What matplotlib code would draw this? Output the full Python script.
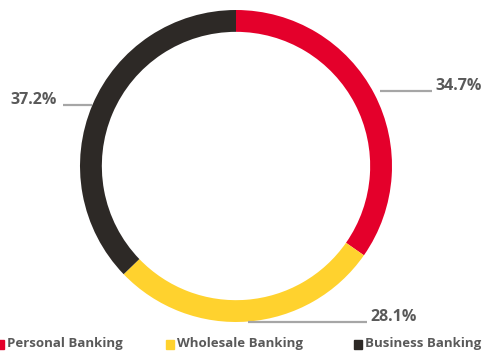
import matplotlib.pyplot as plt
import numpy as np

segments = ["Personal Banking", "Wholesale Banking", "Business Banking"]
shares = [34.7, 28.1, 37.2]
colors = ["#E4002B", "#FFD22E", "#2D2926"]
text_gray = "#595959"
line_gray = "#A6A6A6"

plt.rcParams["font.family"] = ["Open Sans", "DejaVu Sans"]

W, H = 483, 352
fig = plt.figure(figsize=(W / 100, H / 100), dpi=100)

# ring centre and outer radius in pixels
cx, cy, r = 236, 166, 156
ax = fig.add_axes([(cx - r) / W, (H - cy - r) / H, 2 * r / W, 2 * r / H])
wedges, _ = ax.pie(shares, colors=colors, startangle=90, counterclock=False,
                   radius=1, wedgeprops=dict(width=0.14, edgecolor="none"))
ax.set_xlim(-1, 1)
ax.set_ylim(-1, 1)
ax.axis("off")

# horizontal leader lines: start radius, end x in pixels, text side
leaders = [(1.04, 432, "left"), (1.0, 367, "left"), (1.0, 63, "right")]
for w, val, (rad, lx, ha) in zip(wedges, shares, leaders):
    ang = np.deg2rad((w.theta1 + w.theta2) / 2)
    sx, sy = rad * np.cos(ang), rad * np.sin(ang)
    ex = (lx - cx) / r
    ax.plot([sx, ex], [sy, sy], color=line_gray, lw=1.6, clip_on=False,
            solid_capstyle="butt")
    tx = ex + (3 / r if ha == "left" else -6 / r)
    ax.text(tx, sy + 5 / r, f"{val}%", ha=ha, va="center", fontsize=11.5,
            fontweight="bold", color=text_gray, clip_on=False)

# legend along the bottom
legend_x = [0, 170, 358]
for name, col, x in zip(segments, colors, legend_x):
    fig.patches.append(plt.Rectangle(((x - 4) / W, (H - 349) / H), 8 / W, 9 / H,
                                     transform=fig.transFigure, color=col))
    fig.text((x + 7) / W, (H - 344) / H, name, ha="left", va="center",
             fontsize=9.5, fontweight="bold", color=text_gray)

fig.savefig("out.png", dpi=100)
